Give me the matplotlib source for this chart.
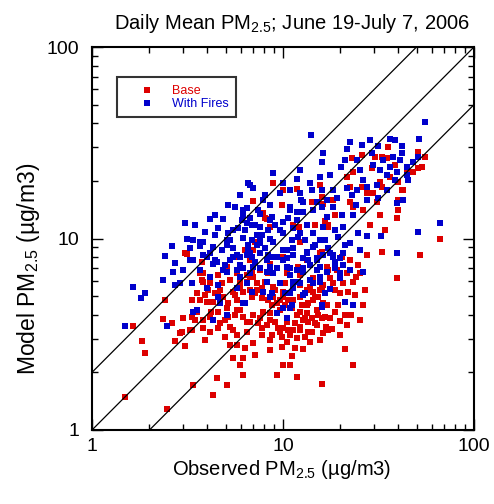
import numpy as np
import matplotlib
matplotlib.use("Agg")
import matplotlib.pyplot as plt

plt.rcParams['font.family'] = ['Liberation Sans', 'DejaVu Sans']
plt.rcParams['mathtext.fontset'] = 'custom'
plt.rcParams['mathtext.rm'] = 'Liberation Sans'
plt.rcParams['mathtext.it'] = 'Liberation Sans:italic'
plt.rcParams['mathtext.bf'] = 'Liberation Sans:bold'

# ---- data (observed, model) ----
fires_x = [1.49, 1.64, 1.89, 1.80, 2.47, 2.41, 2.65, 2.35, 2.72, 3.38, 4.30, 5.10, 6.17, 10.0, 11.2,
           8.55, 6.88, 5.75, 4.68, 4.0, 3.34, 3.68, 3.0, 2.72, 3.38, 4.0, 4.5, 5.48, 6.72, 8.25,
           9.3, 10.5, 8.85, 7.58, 6.72, 5.75, 5.1, 9.64, 8.25, 7.85, 11.3, 10.9, 8.85, 6.55, 6.95,
           8.05, 5.61, 6.17, 3.07, 4.15, 4.85, 4.57, 2.62, 3.14, 3.68, 6.46, 4.41, 3.81, 3.38, 5.15,
           5.82, 6.17, 5.1, 4.30, 3.26, 5.75, 6.55, 6.72, 9.98, 15.6, 9.64, 12.3, 12.7, 15.1, 11.8,
           10.9, 14.3, 17.0, 9.98, 8.75, 7.58, 6.17, 6.46, 7.13, 8.35, 9.98, 11.3, 13.3, 12.0, 14.3,
           15.6, 17.2, 7.3, 6.55, 7.58, 8.85, 9.98, 11.3, 13.3, 8.35, 12.7, 15.1, 14.0, 16.2, 16.0,
           22.4, 25.9, 21.6, 31.4, 36.3, 41.9, 51.5, 55.4, 20.1, 24.4, 26.3, 11.8, 14.1, 12.4, 12.8,
           18.3, 21.6, 23.0, 19.2, 16.0, 17.0, 18.3, 16.0, 20.4, 23.3, 24.7, 27.5, 32.6, 20.6, 16.2,
           19.4, 22.4, 20.6, 18.3, 12.3, 11.1, 8.55, 7.3, 6.88, 13.5, 14.3, 10.5, 8.55, 10.9, 12.7,
           15.6, 17.6, 19.9, 22.4, 26.3, 7.58, 6.72, 7.85, 33.3, 36.3, 39.5, 44.5, 48.0, 51.0, 41.9,
           37.5, 35.0, 38.6, 44.5, 29.2, 29.6, 27.5, 31.0, 35.0, 27.5, 31.4, 24.4, 39.5, 42.4, 45.1,
           39.5, 23.3, 21.1, 16.0, 17.6, 19.9, 20.6, 19.9, 17.0, 15.6, 13.8, 11.8, 10.9, 12.3, 11.3,
           10.2, 10.9, 12.7, 14.3, 18.7, 18.3, 66.3, 51.0, 3.81, 4.3, 4.85, 5.28, 5.95, 6.17, 2.89,
           4.15, 4.57, 4.57, 3.55, 6.46, 7.58, 8.75, 9.98, 11.3, 13.3, 15.1, 16.2, 9.3, 12.7, 15.1,
           8.25, 13.8, 12.0, 15.6, 6.46, 13.0, 8.75, 6.32, 9.3, 10.5, 16.0, 16.6, 5.95, 7.0, 5.95,
           3.68, 4.15, 3.26, 4.41, 5.1, 5.48, 6.1, 6.88, 7.58, 10.5, 9.64, 11.8, 10.9, 8.55,
           6.32, 6.88, 7.75, 9.08, 10.6, 13.0, 14.7, 16.6, 18.7, 5.28, 4.79, 5.48, 3.9, 3.46, 4.41,
           5.15, 5.95, 7.4, 8.55, 10.9, 13.8, 12.3, 17.6, 21.1, 25.3, 32.2, 41.0, 38.6, 28.5, 24.1,
           21.1, 25.3, 18.7, 4.97, 8.05, 7.13]
fires_y = [3.49, 5.58, 5.18, 4.89, 3.49, 8.1, 6.7, 6.07, 5.72, 4.13, 3.75, 3.99, 4.6, 4.33, 4.5,
           4.95, 5.25, 5.52, 4.6, 5.52, 5.87, 6.85, 6.85, 7.45, 7.72, 8.0, 7.53, 8.0, 8.4, 7.72,
           8.0, 7.1, 6.6, 7.0, 6.6, 6.85, 6.7, 5.87, 5.95, 5.25, 5.95, 5.2, 22.0, 19.5, 18.3,
           16.9, 14.6, 14.1, 12.1, 12.6, 12.6, 11.3, 9.1, 9.95, 9.1, 14.4, 10.4, 9.6, 9.83, 10.7,
           11.4, 10.1, 9.25, 9.0, 8.9, 8.2, 8.7, 19.0, 19.6, 20.9, 17.3, 17.3, 15.5, 15.5, 13.7,
           14.1, 14.1, 12.9, 12.2, 12.9, 13.5, 13.3, 12.0, 11.8, 11.1, 10.7, 11.3, 11.8, 10.2, 10.7,
           9.83, 8.9, 10.4, 9.25, 9.5, 9.6, 8.71, 8.9, 8.5, 8.2, 7.9, 7.9, 34.7, 27.9, 25.0,
           31.8, 30.8, 29.3, 30.4, 33.0, 30.4, 33.0, 40.5, 23.6, 25.7, 20.2, 20.4, 17.9, 15.9, 13.7,
           17.9, 18.3, 16.9, 16.3, 17.9, 15.9, 14.6, 14.6, 13.3, 13.3, 10.7, 10.3, 10.3, 11.5, 11.5,
           10.2, 9.45, 8.4, 8.0, 10.7, 9.83, 10.0, 9.25, 8.0, 7.72, 9.0, 7.9, 7.1, 7.0, 6.7,
           7.1, 8.4, 6.6, 6.85, 6.7, 11.5, 12.8, 15.9, 25.7, 23.6, 22.2, 23.6, 25.0, 26.6, 27.9,
           26.6, 21.5, 20.2, 21.5, 27.9, 24.2, 18.6, 19.0, 17.9, 15.9, 16.3, 17.9, 15.3, 15.9, 20.2,
           8.4, 4.5, 4.66, 4.5, 5.45, 6.2, 7.27, 7.9, 6.7, 6.3, 7.27, 6.85, 6.45, 5.87, 5.5,
           5.2, 4.33, 5.07, 5.87, 7.0, 8.2, 12.1, 10.8, 8.2, 7.4, 6.85, 7.72, 8.0, 7.0, 5.87,
           6.3, 5.72, 4.95, 4.23, 8.2, 8.4, 8.0, 7.72, 8.2, 8.4, 7.72, 8.2, 7.0, 7.0, 6.85,
           6.7, 6.07, 5.95, 5.95, 5.87, 5.2, 5.2, 4.6, 4.08, 3.85, 4.4, 5.2, 7.27, 7.1, 6.3,
           9.6, 8.4, 7.72, 7.72, 9.83, 11.1, 12.5, 11.8, 10.2, 8.7, 11.1, 12.5, 14.6, 12.5,
           11.1, 9.83, 10.4, 11.8, 12.8, 9.83, 9.25, 9.83, 11.1, 9.83, 8.71, 8.9, 10.8, 11.8, 13.3,
           15.0, 16.9, 14.1, 15.0, 17.9, 19.5, 22.8, 21.5, 25.7, 22.8, 22.8, 25.7, 32.7, 32.7, 15.0,
           9.25, 8.71, 7.55, 7.27, 8.9, 7.55]

base_x = [3.14, 3.68, 3.81, 4.15, 4.05, 3.55, 3.34, 3.68, 4.0, 4.41, 4.79, 4.85, 5.15, 5.48, 5.95,
          6.46, 6.95, 7.3, 6.88, 6.17, 5.75, 5.15, 4.57, 4.15, 3.81, 3.55, 3.34, 3.26, 2.89, 2.72,
          3.07, 2.35, 2.62, 2.41, 1.64, 1.83, 1.89, 1.49, 2.47, 3.38, 4.3, 5.1, 4.5, 4.15, 4.57,
          4.97, 5.48, 5.75, 6.32, 6.95, 7.75, 8.25, 7.58, 8.55, 9.3, 10.0, 10.5, 11.3, 9.64, 8.55,
          9.85, 6.17, 5.48, 5.95, 6.17, 9.3, 10.0, 10.9, 11.1, 8.85, 6.95, 9.85, 7.85, 8.25, 3.07,
          5.82, 10.0, 11.8, 8.55, 11.3, 12.1, 16.6, 17.2, 18.3, 22.4, 14.1, 16.2, 22.9, 23.3, 22.4,
          21.6, 25.9, 30.3, 29.2, 32.9, 35.0, 32.2, 32.9, 36.3, 39.9, 42.4, 51.0, 53.3, 55.4, 44.5,
          48.0, 35.4, 51.0, 38.6, 39.9, 39.9, 39.5, 41.9, 25.9, 27.5, 29.6, 31.0, 26.3, 18.7, 23.3,
          27.5, 20.4, 22.4, 24.7, 17.0, 15.6, 13.3, 12.0, 10.5, 19.2, 21.6, 24.1, 10.0, 8.35, 7.58,
          6.72, 66.3, 52.1, 39.5, 32.9, 25.3, 23.3, 20.6, 19.9, 21.8, 26.3, 22.7, 19.9, 18.7, 21.6,
          21.1, 23.3, 16.0, 17.2, 18.0, 16.8, 16.0, 14.7, 17.0, 18.3, 17.6, 16.2, 15.6, 14.3, 13.5,
          12.5, 12.3, 13.3, 14.1, 12.7, 11.8, 11.6, 10.5, 10.0, 12.3, 13.5, 13.0, 11.8, 10.5, 11.6,
          12.7, 11.8, 13.8, 14.3, 15.3, 12.3, 11.3, 10.2, 9.64, 7.13, 6.95, 6.32, 12.3, 16.0, 14.7,
          17.2, 15.6, 16.0, 8.05, 3.77, 3.9, 3.0, 3.34, 2.95, 3.81, 4.68, 5.28, 5.75, 6.46, 5.1,
          5.61, 6.17, 4.3, 4.57, 5.75, 6.17, 5.95, 6.46, 5.75, 5.28, 4.15, 3.77, 4.57, 3.81, 6.72,
          7.3, 8.05, 8.85, 7.13, 7.75, 8.85, 10.0, 11.3, 10.6, 8.75, 7.85, 7.0, 6.46, 7.4, 8.55,
          9.4, 13.3, 15.1, 12.3, 13.5, 15.1, 16.6, 16.2, 14.1, 10.9, 9.85, 8.75, 16.0, 14.3, 12.3,
          10.5, 17.2, 13.3, 14.7, 16.2, 5.1, 5.6, 6.88, 8.55, 8.85,
          6.72, 7.75, 9.08, 8.35, 9.64, 11.1, 13.0, 15.3, 17.6, 19.4, 21.1, 23.8, 26.9, 18.7, 12.3,
          10.2, 13.8, 5.95, 6.72, 7.75, 9.08, 10.6, 5.61, 4.68, 4.2, 4.97, 3.46, 3.9, 7.13, 8.55,
          5.28, 15.6, 19.9, 25.3, 32.2, 34.2, 28.5]
base_y = [8.3, 6.6, 5.95, 6.3, 5.38, 5.2, 4.77, 4.77, 4.66, 5.2, 5.87, 4.95, 4.6, 5.25, 5.6,
          5.95, 6.3, 5.38, 4.95, 4.6, 4.23, 3.9, 4.13, 3.9, 3.75, 4.13, 3.9, 3.33, 3.2, 2.91,
          2.75, 3.8, 3.6, 4.77, 3.49, 2.91, 2.52, 1.49, 1.29, 1.72, 1.52, 1.72, 1.87, 3.25, 3.4,
          3.05, 3.33, 2.78, 2.68, 2.85, 3.13, 3.53, 3.83, 4.08, 4.6, 4.95, 3.83, 3.33, 3.25, 2.95,
          2.72, 2.38, 2.38, 2.18, 1.94, 1.94, 2.18, 2.18, 2.43, 19.5, 15.7, 15.0, 13.6, 12.6, 8.4,
          8.0, 17.9, 18.1, 11.5, 11.8, 11.5, 12.3, 11.5, 15.9, 15.5, 15.5, 15.2, 26.3, 22.2, 18.6,
          20.9, 27.3, 26.6, 23.3, 26.6, 26.3, 19.7, 18.6, 21.0, 19.7, 17.9, 23.3, 23.6, 26.6, 22.2,
          22.2, 30.0, 28.2, 24.2, 15.9, 14.1, 12.8, 17.9, 18.6, 17.3, 17.3, 15.5, 14.1, 13.3, 14.6,
          8.2, 8.0, 7.72, 7.27, 7.1, 8.4, 7.72, 7.1, 7.0, 6.85, 6.6, 6.3, 8.0, 6.6, 6.85,
          7.72, 9.9, 8.2, 6.2, 8.5, 6.6, 5.95, 5.87, 5.2, 5.25, 4.5, 3.99, 3.7, 4.15, 3.53,
          2.65, 2.18, 1.74, 3.33, 3.37, 3.45, 3.85, 3.62, 4.5, 5.87, 6.2, 5.72, 5.38, 5.25, 4.6,
          4.5, 4.13, 4.08, 3.83, 3.75, 3.99, 3.62, 3.66, 3.4, 3.33, 3.25, 3.05, 3.02, 2.88, 2.68,
          2.65, 1.89, 2.88, 4.77, 4.95, 4.95, 4.77, 4.5, 4.77, 9.6, 8.71, 8.71, 9.6, 8.5, 11.8,
          11.8, 19.0, 16.5, 12.8, 7.55, 5.07, 3.85, 3.33, 3.25, 3.4, 3.62, 3.45, 3.13, 3.25, 4.33,
          3.99, 3.9, 4.66, 5.2, 4.77, 5.25, 5.87, 6.45, 6.6, 6.07, 5.87, 6.07, 6.45, 6.6, 6.3,
          5.87, 5.95, 5.6, 5.2, 4.9, 4.95, 5.25, 5.6, 4.77, 4.5, 4.13, 3.99, 3.66, 3.62, 3.75,
          3.4, 4.5, 4.23, 3.45, 3.66, 3.53, 3.9, 3.2, 3.25, 3.13, 3.05, 3.13, 5.6, 6.2, 6.45,
          6.6, 6.85, 5.38, 4.95, 4.6, 7.1, 8.0, 6.6, 7.4, 6.6,
          5.38, 5.52, 5.38, 4.77, 4.23, 4.33, 3.83, 3.99, 3.83, 4.5, 3.99, 5.07, 5.38, 5.38, 5.72,
          5.87, 5.6, 4.23, 3.66, 3.4, 3.66, 3.33, 5.07, 5.38, 4.13, 3.75, 3.75, 2.95, 2.46, 2.62,
          2.78, 2.95, 3.13, 3.75, 13.3, 11.1, 11.8]

ref_ratios = [2.0, 1.0, 0.5]
axis_limits = [1, 100]
tick_values = [1, 10, 100]
tick_labels = ['1', '10', '100']

base_color = '#dd0000'
fires_color = '#0000cc'

fig = plt.figure(figsize=(4.94, 5.04), dpi=100)
ax = fig.add_axes([92/494, 1-430/504, 382/494, 383/504])

xx = np.array(axis_limits, dtype=float)
for r in ref_ratios:
    ax.plot(xx, r*xx, color='black', lw=0.9, zorder=3)

ax.scatter(base_x, base_y, marker='s', s=22, color=base_color, linewidths=0, label='Base', zorder=1)
ax.scatter(fires_x, fires_y, marker='s', s=22, color=fires_color, linewidths=0, label='With Fires', zorder=2)

ax.set_xscale('log')
ax.set_yscale('log')
ax.set_xlim(axis_limits)
ax.set_ylim(axis_limits)
ax.set_xticks(tick_values)
ax.set_xticklabels(tick_labels)
ax.set_yticks(tick_values)
ax.set_yticklabels(tick_labels)
ax.tick_params(which='both', direction='in', top=True, right=True, width=1)
ax.tick_params(which='major', length=8, labelsize=14)
ax.tick_params(axis='x', which='major', pad=6)
ax.tick_params(axis='y', which='major', pad=9)
ax.tick_params(which='minor', length=4)
for sp in ax.spines.values():
    sp.set_linewidth(1.5)

ax.set_xlabel('Observed PM$_{2.5}$ (µg/m3)', fontsize=14.5)
ax.xaxis.set_label_coords(0.496, -0.072)
ax.set_ylabel('Model PM$_{2.5}$ (µg/m3)', fontsize=16.5)
ax.yaxis.set_label_coords(-0.13, 0.42)
ax.set_title('Daily Mean PM$_{2.5}$; June 19-July 7, 2006', fontsize=14.5, x=0.524, pad=13)

leg = ax.legend(loc='upper left', bbox_to_anchor=(25/382, (430-77)/383), borderaxespad=0,
                fontsize=9, frameon=True, fancybox=False, edgecolor='black',
                borderpad=0.6, handlelength=3.6, handletextpad=0.2, labelspacing=0.1,
                scatterpoints=1, labelcolor=[base_color, fires_color])
leg.get_frame().set_linewidth(1.5)

fig.savefig('out.png', dpi=100)
